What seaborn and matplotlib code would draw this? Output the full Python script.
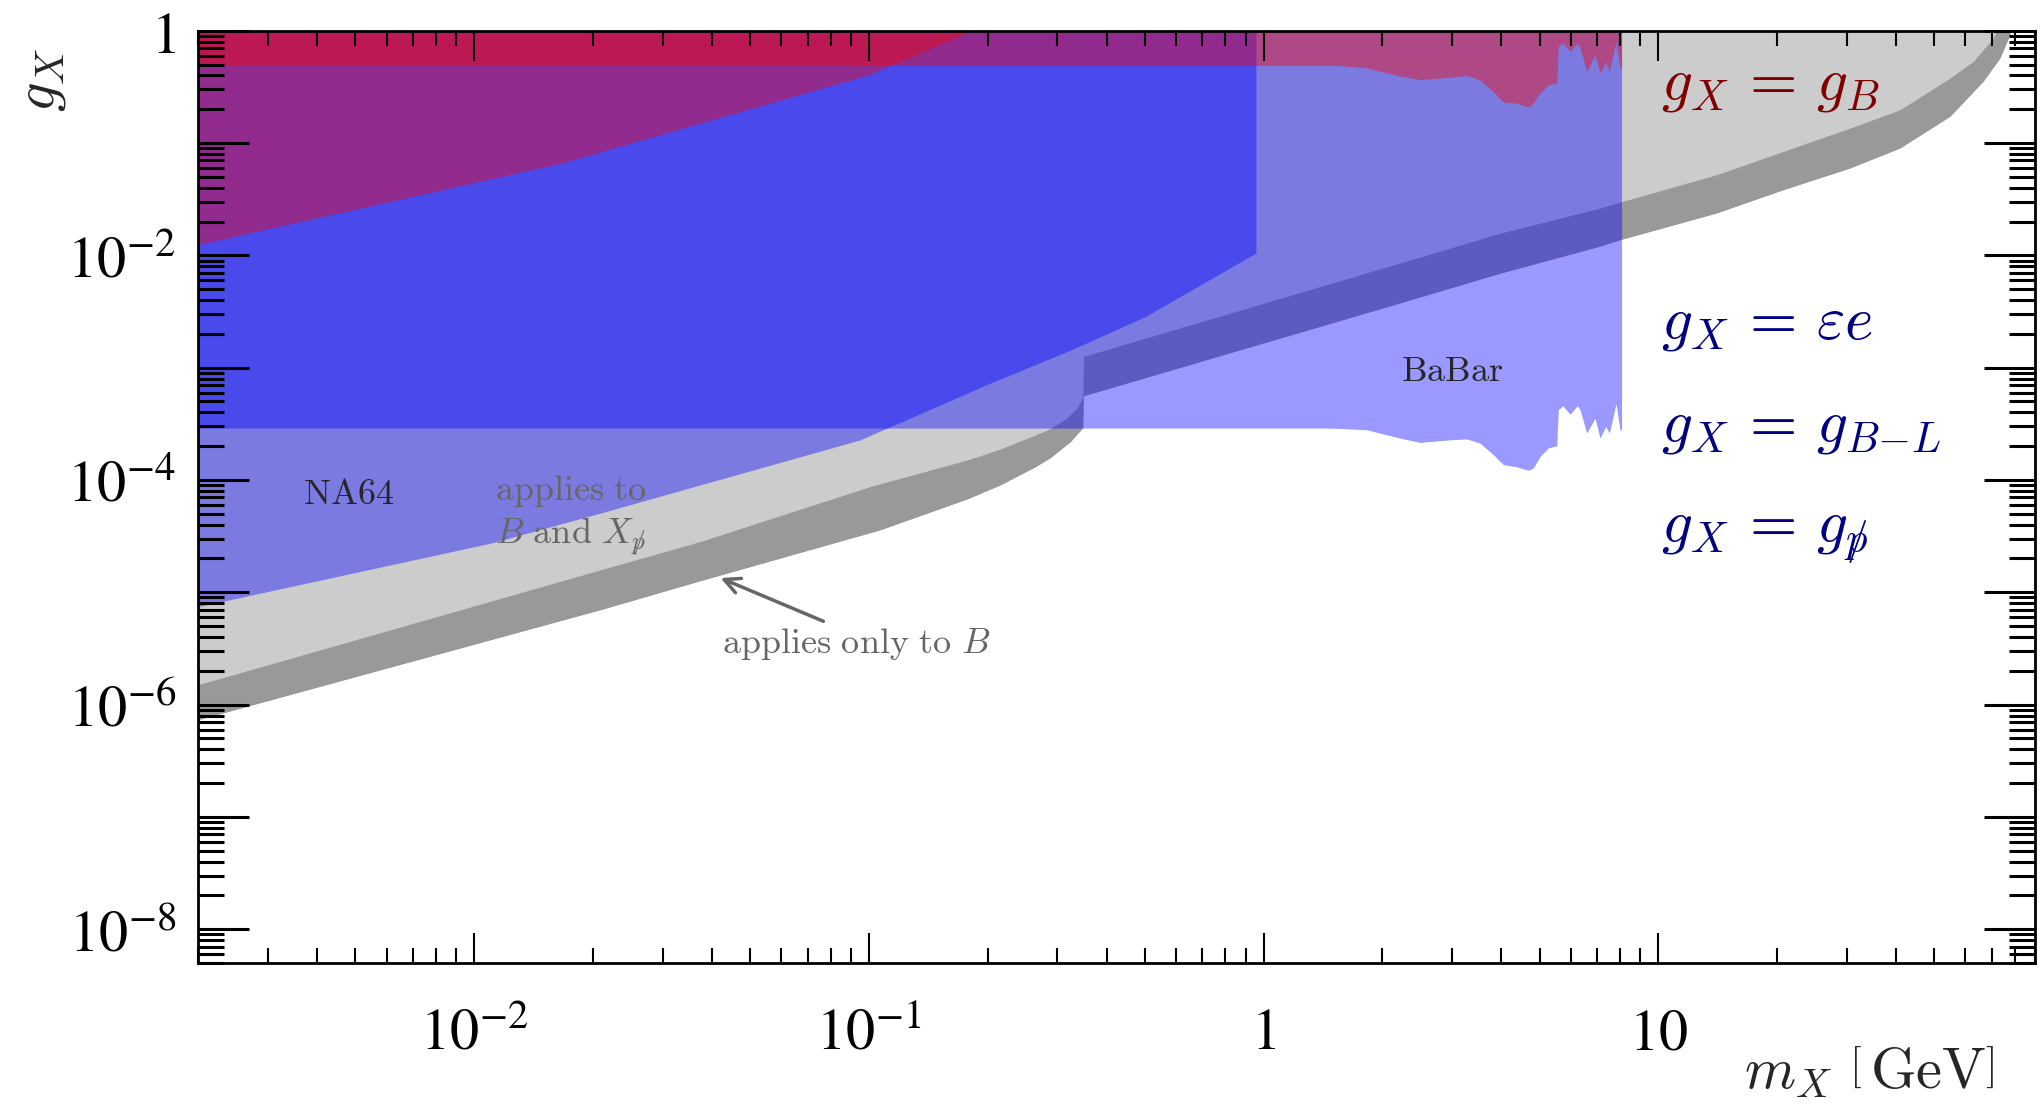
import numpy as np
import matplotlib
matplotlib.use('Agg')
import matplotlib.pyplot as plt
import seaborn as sns
from matplotlib.mathtext import MathTextParser
from matplotlib.ticker import LogLocator, NullFormatter

# ---- values: m_X in GeV, g_X ----

# anomaly constraint: edge of the light grey region ("applies to B and X_pslash")
anom_light_m = [0.002, 0.0209, 0.0374, 0.1008, 0.1785, 0.2151, 0.2846, 0.3174, 0.3371, 0.348,
                0.349, 2.216, 3.971, 7.115, 7.995, 14.05, 20.72, 30.56, 40.91, 54.77, 62.74, 70.5, 71.9]
anom_light_g = [1.51e-6, 1.59e-5, 2.84e-5, 8.77e-5, 1.52e-4, 1.89e-4, 2.81e-4, 3.58e-4, 4.40e-4, 5.50e-4,
                1.26e-3, 8.58e-3, 1.58e-2, 2.65e-2, 2.99e-2, 5.24e-2, 8.45e-2, 0.136, 0.198, 0.379, 0.534, 0.861, 1.0]

# anomaly constraint: edge of the dark grey band ("applies only to B")
anom_dark_m = [0.002, 0.0209, 0.0374, 0.1069, 0.1785, 0.2151, 0.2638, 0.288, 0.3236, 0.348,
               0.349, 2.216, 3.971, 7.115, 7.995, 14.05, 20.72, 30.56, 40.91, 54.77, 66.5, 73.31, 77.7, 78.0]
anom_dark_g = [7.36e-7, 7.02e-6, 1.27e-5, 3.61e-5, 6.85e-5, 9.05e-5, 1.31e-4, 1.58e-4, 2.19e-4, 2.92e-4,
               5.62e-4, 3.78e-3, 6.95e-3, 1.21e-2, 1.38e-2, 2.39e-2, 3.85e-2, 6.0e-2, 9.04e-2, 0.173, 0.355, 0.572, 0.921, 1.0]

# BaBar-type limit (blue), lower edge; the g_B version (red) uses the same masses
babar_m = [0.002, 1.45, 1.562, 1.825, 2.216, 2.491, 2.966, 3.27, 3.534, 3.818, 4.048, 4.377, 4.684, 4.822,
           5.015, 5.263, 5.528, 5.579, 5.724, 5.974, 6.234, 6.332, 6.585, 6.911, 7.115, 7.356, 7.512,
           7.811, 7.995, 8.07]
babar_g = [2.90e-4, 2.90e-4, 2.88e-4, 2.80e-4, 2.36e-4, 2.16e-4, 2.28e-4, 2.32e-4, 2.13e-4, 1.68e-4,
           1.37e-4, 1.31e-4, 1.22e-4, 1.28e-4, 1.62e-4, 1.93e-4, 2.02e-4, 4.22e-4, 4.58e-4, 3.86e-4,
           4.58e-4, 4.22e-4, 2.62e-4, 3.56e-4, 2.36e-4, 3.00e-4, 2.62e-4, 4.77e-4, 2.80e-4, 2.80e-4]
babar_gb_g = [0.492, 0.492, 0.490, 0.466, 0.395, 0.368, 0.385, 0.400, 0.364, 0.285, 0.232, 0.227, 0.209,
              0.227, 0.279, 0.329, 0.343, 0.726, 0.777, 0.656, 0.777, 0.702, 0.435, 0.611, 0.420, 0.527,
              0.435, 0.805, 0.466, 0.466]

# NA64 / beam dump limit (blue), lower edge
na64_m = [0.002, 0.01106, 0.0209, 0.0951, 0.203, 0.325, 0.501, 0.956]
na64_g = [7.46e-6, 2.75e-5, 5.08e-5, 2.28e-4, 7.29e-4, 1.44e-3, 2.85e-3, 1.05e-2]

# baryonic limit (red), lower edge
gb_m = [0.002, 0.0167, 0.0363, 0.1001, 0.182]
gb_g = [0.0125, 0.0665, 0.146, 0.406, 1.0]

x_major = [1e-2, 1e-1, 1, 10]
x_labels = ['$10^{-2}$', '$10^{-1}$', '$1$', '$10$']
y_major = [1e-8, 1e-7, 1e-6, 1e-5, 1e-4, 1e-3, 1e-2, 1e-1, 1]
y_labels = ['$10^{-8}$', '', '$10^{-6}$', '', '$10^{-4}$', '', '$10^{-2}$', '', '$1$']


def pick_pslash():
    # p with a stroke through it, built from what mathtext can parse here
    parser = MathTextParser('path')
    for cand in (r'p\hspace{-0.55}/', r'\not{p}', 'p'):
        try:
            parser.parse('$g_{%s}$' % cand)
            return cand
        except Exception:
            pass
    return 'p'


sns.set_style('ticks')
plt.rcParams['font.family'] = ['DejaVu Serif', 'DejaVu Sans']
plt.rcParams['mathtext.fontset'] = 'cm'
pslash = pick_pslash()

LIGHT = '#cccccc'
DARK = '#999999'
BLUE = (0, 0, 1, 0.4)
RED = (1, 0, 0, 0.4)
TOP = 2.0

fig = plt.figure(figsize=(20.44, 11.14), dpi=100)
ax = fig.add_axes([0.097, 0.1355, 0.8986, 0.8369])
ax.set_xscale('log')
ax.set_yscale('log')

# grey anomaly regions
ax.fill_between(anom_dark_m, anom_dark_g, TOP, color=DARK, lw=0)
ax.fill_between(anom_light_m, anom_light_g, TOP, color=LIGHT, lw=0)
sns.lineplot(x=anom_dark_m, y=anom_dark_g, ax=ax, color=DARK, lw=0.8, sort=False, estimator=None, zorder=1)
sns.lineplot(x=anom_light_m, y=anom_light_g, ax=ax, color=LIGHT, lw=0.8, sort=False, estimator=None, zorder=1)

# blue and red limits
ax.fill_between(babar_m, babar_g, TOP, color=BLUE, lw=0)
ax.fill_between(na64_m, na64_g, TOP, color=BLUE, lw=0)
ax.fill_between(gb_m, gb_g, TOP, color=RED, lw=0)
ax.fill_between(babar_m, babar_gb_g, TOP, color=RED, lw=0)

# labels inside
ax.text(4.8e-3, 7.45e-5, r'$\mathrm{NA64}$', fontsize=26, ha='center', va='center')
ax.text(3.0, 9.3e-4, r'$\mathrm{BaBar}$', fontsize=26, ha='center', va='center')
ax.text(0.0113, 6.68e-5, r'$\mathrm{applies\ to}$', color='#666666', fontsize=26, va='baseline')
ax.text(0.0113, 2.75e-5, r'$B\ \mathrm{and}\ X_{%s}$' % pslash, color='#666666', fontsize=26, va='baseline')
ax.text(0.0425, 2.89e-6, r'$\mathrm{applies\ only\ to}\ B$', color='#666666', fontsize=26, va='baseline')
ax.annotate('', xy=(0.0421, 1.34e-5), xytext=(0.0767, 5.52e-6),
            arrowprops=dict(arrowstyle='->', color='#666666', lw=2.5, mutation_scale=28, shrinkA=0, shrinkB=0))

ax.text(10.15, 0.244, r'$g_X\,=\,g_B$', color='#800000', fontsize=44, va='baseline')
ax.text(10.15, 1.82e-3, r'$g_X\,=\,\varepsilon e$', color='#000080', fontsize=44, va='baseline')
ax.text(10.15, 2.22e-4, r'$g_X\,=\,g_{B{-}L}$', color='#000080', fontsize=44, va='baseline')
ax.text(10.15, 2.75e-5, r'$g_X\,=\,g_{%s}$' % pslash, color='#000080', fontsize=44, va='baseline')

# axes, ticks
ax.set_xticks(x_major, x_labels, fontsize=42, va='baseline', math_fontfamily='stix')
ax.set_yticks(y_major, y_labels, fontsize=42, math_fontfamily='stix')
ax.xaxis.set_minor_locator(LogLocator(base=10, subs=np.arange(2, 10), numticks=100))
ax.yaxis.set_minor_locator(LogLocator(base=10, subs=np.arange(2, 10), numticks=100))
ax.xaxis.set_minor_formatter(NullFormatter())
ax.yaxis.set_minor_formatter(NullFormatter())
ax.set_xlim(2e-3, 90)
ax.set_ylim(5e-9, 1)

ax.tick_params(axis='x', which='major', direction='in', length=21.6, width=1.5, top=True, bottom=True, pad=62)
ax.tick_params(axis='x', which='minor', direction='in', length=10.8, width=1.5, top=True, bottom=True)
ax.tick_params(axis='y', which='major', direction='in', length=37, width=2.2, left=True, right=True, pad=16)
ax.tick_params(axis='y', which='minor', direction='in', length=18.7, width=2.2, left=True, right=True)
ax.tick_params(which='both', colors='black', labelcolor='black')
ax.set_axisbelow(False)
for sp in ax.spines.values():
    sp.set_linewidth(2)
    sp.set_color('black')

ax.set_xlabel(r'$m_X\ \left[\,\mathrm{GeV}\right]$', fontsize=42, ha='right', va='baseline')
ax.xaxis.set_label_coords(0.978, -0.134)
ax.set_ylabel(r'$g_X$', fontsize=42, rotation=90, ha='center', va='center')
ax.yaxis.set_label_coords(-0.0862, 0.947)

fig.savefig('out.png', dpi=100)
print('pslash:', repr(pslash))
